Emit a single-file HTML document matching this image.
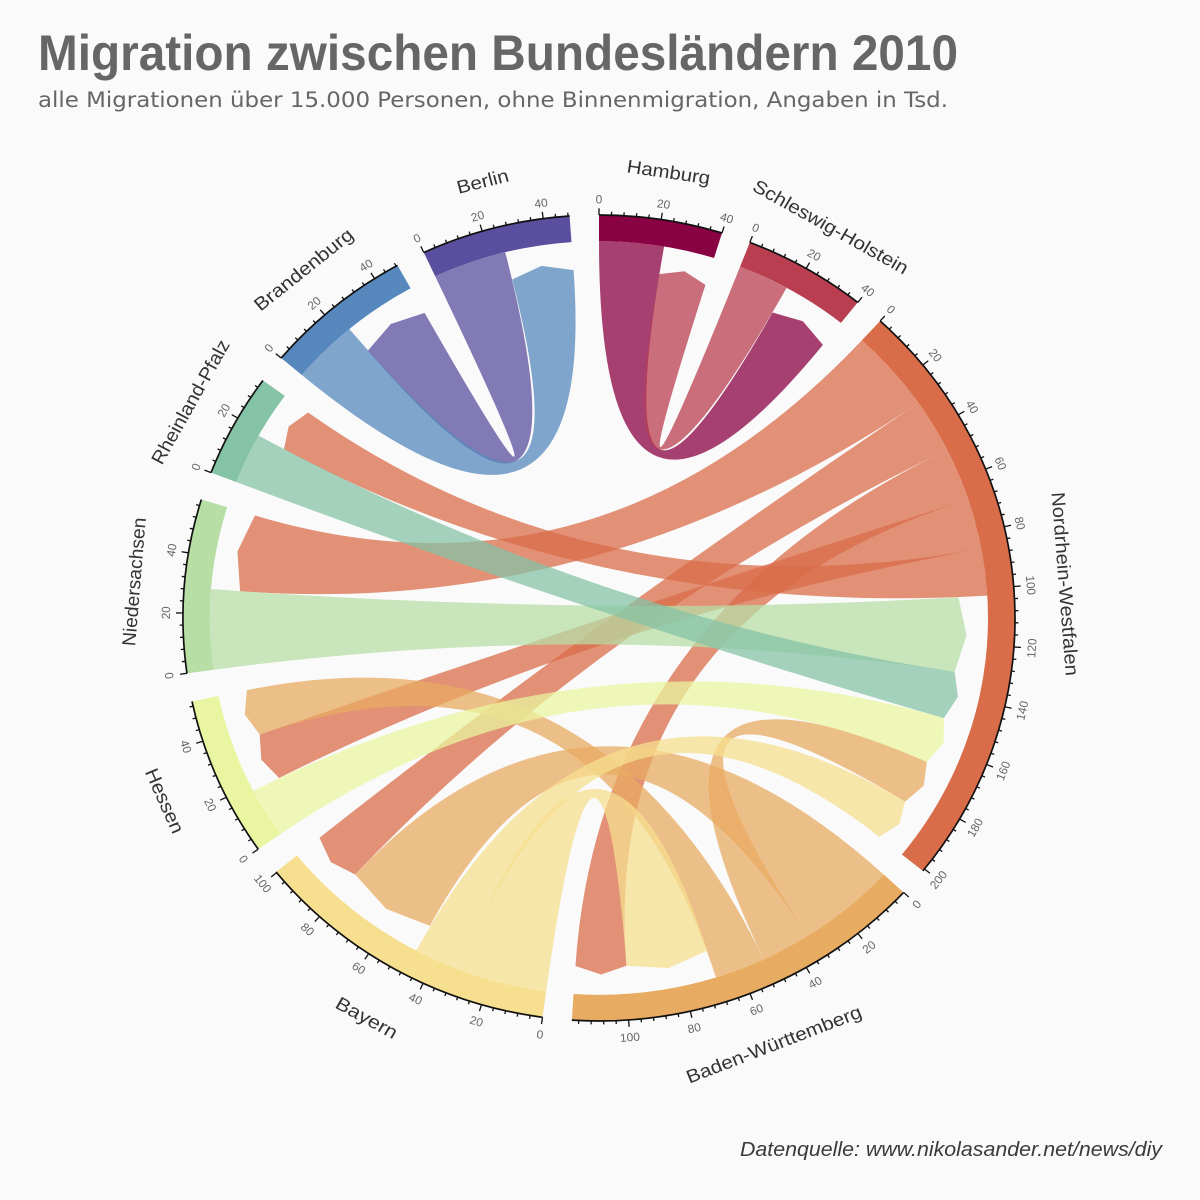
<!DOCTYPE html>
<html>
<head>
<meta charset="utf-8">
<style>
  html,body{margin:0;padding:0;background:#fafafa;}
  svg{display:block;}
</style>
</head>
<body>
<svg id="svg" width="1200" height="1200" viewBox="0 0 1200 1200" xmlns="http://www.w3.org/2000/svg">
  <rect width="1200" height="1200" fill="#fafafa"/>
  <text x="38" y="70" font-family="Liberation Sans, sans-serif" font-weight="bold" font-size="50" fill="#666" textLength="920" lengthAdjust="spacingAndGlyphs">Migration zwischen Bundesländern 2010</text>
  <text x="38" y="107" font-family="DejaVu Sans, sans-serif" font-size="21" fill="#666" textLength="910" lengthAdjust="spacingAndGlyphs">alle Migrationen über 15.000 Personen, ohne Binnenmigration, Angaben in Tsd.</text>

  <g transform="translate(599,618) scale(1,0.9688)">
    <g id="links"></g>
    <g id="tracks"></g>

    <g font-family="Liberation Sans, sans-serif" font-size="12" fill="#666" text-anchor="middle">
      <!-- Hamburg -->
      <text transform="rotate(0) translate(0,-432)" y="4">0</text>
      <text transform="rotate(8.6) translate(0,-432)" y="4">20</text>
      <text transform="rotate(17.2) translate(0,-432)" y="4">40</text>
      <!-- Schleswig-Holstein -->
      <text transform="rotate(21.26) translate(0,-432)" y="4">0</text>
      <text transform="rotate(29.86) translate(0,-432)" y="4">20</text>
      <text transform="rotate(38.46) translate(0,-432)" y="4">40</text>
      <!-- NRW -->
      <text transform="rotate(42.52) translate(0,-432)" y="4">0</text>
      <text transform="rotate(51.12) translate(0,-432)" y="4">20</text>
      <text transform="rotate(59.72) translate(0,-432)" y="4">40</text>
      <text transform="rotate(68.32) translate(0,-432)" y="4">60</text>
      <text transform="rotate(76.92) translate(0,-432)" y="4">80</text>
      <text transform="rotate(85.52) translate(0,-433)" y="4">100</text>
      <text transform="rotate(94.12) translate(0,-434) rotate(180)" y="4">120</text>
      <text transform="rotate(102.72) translate(0,-434) rotate(180)" y="4">140</text>
      <text transform="rotate(111.32) translate(0,-434) rotate(180)" y="4">160</text>
      <text transform="rotate(119.92) translate(0,-434) rotate(180)" y="4">180</text>
      <text transform="rotate(128.52) translate(0,-434) rotate(180)" y="4">200</text>
      <!-- Baden-Württemberg -->
      <text transform="rotate(132.92) translate(0,-434) rotate(180)" y="4">0</text>
      <text transform="rotate(141.52) translate(0,-434) rotate(180)" y="4">20</text>
      <text transform="rotate(150.12) translate(0,-434) rotate(180)" y="4">40</text>
      <text transform="rotate(158.72) translate(0,-434) rotate(180)" y="4">60</text>
      <text transform="rotate(167.32) translate(0,-434) rotate(180)" y="4">80</text>
      <text transform="rotate(175.92) translate(0,-434) rotate(180)" y="4">100</text>
      <!-- Bayern -->
      <text transform="rotate(187.81) translate(0,-434) rotate(180)" y="4">0</text>
      <text transform="rotate(196.41) translate(0,-434) rotate(180)" y="4">20</text>
      <text transform="rotate(205.01) translate(0,-434) rotate(180)" y="4">40</text>
      <text transform="rotate(213.61) translate(0,-434) rotate(180)" y="4">60</text>
      <text transform="rotate(222.21) translate(0,-434) rotate(180)" y="4">80</text>
      <text transform="rotate(230.81) translate(0,-434) rotate(180)" y="4">100</text>
      <!-- Hessen -->
      <text transform="rotate(235.0) translate(0,-434) rotate(180)" y="4">0</text>
      <text transform="rotate(243.6) translate(0,-434) rotate(180)" y="4">20</text>
      <text transform="rotate(252.2) translate(0,-434) rotate(180)" y="4">40</text>
      <!-- Niedersachsen -->
      <text transform="rotate(262.11) translate(0,-434) rotate(180)" y="4">0</text>
      <text transform="rotate(270.71) translate(0,-433)" y="4">20</text>
      <text transform="rotate(279.31) translate(0,-433)" y="4">40</text>
      <!-- Rheinland-Pfalz -->
      <text transform="rotate(291.15) translate(0,-432)" y="4">0</text>
      <text transform="rotate(299.75) translate(0,-432)" y="4">20</text>
      <!-- Brandenburg -->
      <text transform="rotate(310.17) translate(0,-432)" y="4">0</text>
      <text transform="rotate(318.77) translate(0,-432)" y="4">20</text>
      <text transform="rotate(327.37) translate(0,-432)" y="4">40</text>
      <!-- Berlin -->
      <text transform="rotate(335.09) translate(0,-432)" y="4">0</text>
      <text transform="rotate(343.69) translate(0,-432)" y="4">20</text>
      <text transform="rotate(352.29) translate(0,-432)" y="4">40</text>
    </g>

    <g font-family="Liberation Sans, sans-serif" font-size="19" fill="#333" text-anchor="middle" lengthAdjust="spacingAndGlyphs">
      <text transform="rotate(8.6) translate(0,-466)" y="7" textLength="84" lengthAdjust="spacingAndGlyphs">Hamburg</text>
      <text transform="rotate(29.86) translate(0,-466)" y="7" textLength="176" lengthAdjust="spacingAndGlyphs">Schleswig-Holstein</text>
      <text transform="rotate(85.69) translate(0,-468)" y="7" textLength="190" lengthAdjust="spacingAndGlyphs">Nordrhein-Westfalen</text>
      <text transform="rotate(158.33) translate(0,-473) rotate(180)" y="7" textLength="187" lengthAdjust="spacingAndGlyphs">Baden-Württemberg</text>
      <text transform="rotate(209.37) translate(0,-473) rotate(180)" y="7" textLength="68" lengthAdjust="spacingAndGlyphs">Bayern</text>
      <text transform="rotate(246.52) translate(0,-473) rotate(180)" y="7" textLength="71" lengthAdjust="spacingAndGlyphs">Hessen</text>
      <text transform="rotate(274.6) translate(0,-467)" y="7" textLength="133" lengthAdjust="spacingAndGlyphs">Niedersachsen</text>
      <text transform="rotate(298.63) translate(0,-466)" y="7" textLength="143" lengthAdjust="spacingAndGlyphs">Rheinland-Pfalz</text>
      <text transform="rotate(320.6) translate(0,-466)" y="7" textLength="122" lengthAdjust="spacingAndGlyphs">Brandenburg</text>
      <text transform="rotate(345.52) translate(0,-466)" y="7" textLength="53" lengthAdjust="spacingAndGlyphs">Berlin</text>
    </g>
  </g>

  <text x="1162" y="1156" text-anchor="end" font-family="Liberation Sans, sans-serif" font-style="italic" font-size="20" fill="#3a3a3a" textLength="422" lengthAdjust="spacingAndGlyphs">Datenquelle: www.nikolasander.net/news/diy</text>
</svg>

<script>
(function(){
  var NS = "http://www.w3.org/2000/svg";
  var k = 0.43, R0 = 416, RI = 389, RA = 360, RT = 368;
  var sec = {
    Ham:[0,40,'#890243'],
    SH:[21.26,40,'#b93f50'],
    NRW:[42.52,200.8,'#d96c49'],
    BW:[132.92,118.2,'#e8ab62'],
    Bay:[187.81,100.3,'#f6df8f'],
    Hes:[235.00,53.6,'#e9f5a0'],
    Nds:[262.11,58.1,'#b7dea5'],
    RP:[291.15,34.8,'#85c3a6'],
    Bra:[310.17,48.5,'#5688bd'],
    Ber:[335.09,48.5,'#5a4f9e']
  };
  function P(a,r){var t=a*Math.PI/180;return (r*Math.sin(t)).toFixed(2)+','+(-r*Math.cos(t)).toFixed(2);}
  function ang(s,v){return sec[s][0]+v*k;}
  function el(tag, attrs, parent){
    var e=document.createElementNS(NS,tag);
    for(var a in attrs){e.setAttribute(a,attrs[a]);}
    parent.appendChild(e);return e;
  }
  var links = [
    ['Ham',0,22.4,'SH',17.6,40],
    ['SH',0,17.6,'Ham',22.4,40],
    ['Ber',0,25.5,'Bra',23,48.5],
    ['Bra',0,23,'Ber',25.5,48.5],
    ['NRW',0,29.5,'Nds',28.6,58.1],
    ['NRW',29.5,48.8,'Bay',81,100.3],
    ['NRW',48.8,67.7,'BW',99.3,118.2],
    ['NRW',67.7,85.8,'Hes',17.9,36],
    ['NRW',85.8,102.5,'RP',18.1,34.8],
    ['BW',0,34,'Bay',47,81],
    ['BW',34,51.2,'NRW',167.1,184.3],
    ['BW',51.2,68.8,'Hes',36,53.6],
    ['Bay',0,30.5,'BW',68.8,99.3],
    ['Bay',30.5,47,'NRW',184.3,200.8],
    ['Hes',0,17.9,'NRW',149.2,167.1],
    ['Nds',0,28.6,'NRW',102.5,131.1],
    ['RP',0,18.1,'NRW',131.1,149.2]
  ];
  var gl=document.getElementById('links');
  links.forEach(function(l){
    var a1=ang(l[0],l[1]),a2=ang(l[0],l[2]),b1=ang(l[3],l[4]),b2=ang(l[3],l[5]);
    var d='M'+P(a1,RI)+' A'+RI+','+RI+' 0 0 1 '+P(a2,RI)+' Q0,0 '+P(b1,RA)+' L'+P((b1+b2)/2,RT)+' L'+P(b2,RA)+' Q0,0 '+P(a1,RI)+' Z';
    el('path',{d:d,fill:sec[l[0]][2],'fill-opacity':'0.75'},gl);
  });
  var gt=document.getElementById('tracks');
  for(var s in sec){
    var st=sec[s][0], tot=sec[s][1], en=st+tot*k;
    var d='M'+P(st,R0)+' A'+R0+','+R0+' 0 0 1 '+P(en,R0)+' L'+P(en,RI)+' A'+RI+','+RI+' 0 0 0 '+P(st,RI)+' Z';
    el('path',{d:d,fill:sec[s][2]},gt);
    el('path',{d:'M'+P(st,R0)+' A'+R0+','+R0+' 0 0 1 '+P(en,R0),fill:'none',stroke:'#111','stroke-width':'1.7','vector-effect':'non-scaling-stroke'},gt);
    var td='';
    for(var v=0; v<=tot+1e-6; v+=4){
      var a=st+v*k, len=(v%20===0)?7:3.5;
      td+='M'+P(a,R0)+' L'+P(a,R0+len)+' ';
    }
    el('path',{d:td,fill:'none',stroke:'#111','stroke-width':'1.3','vector-effect':'non-scaling-stroke'},gt);
  }
})();
</script>
</body>
</html>
